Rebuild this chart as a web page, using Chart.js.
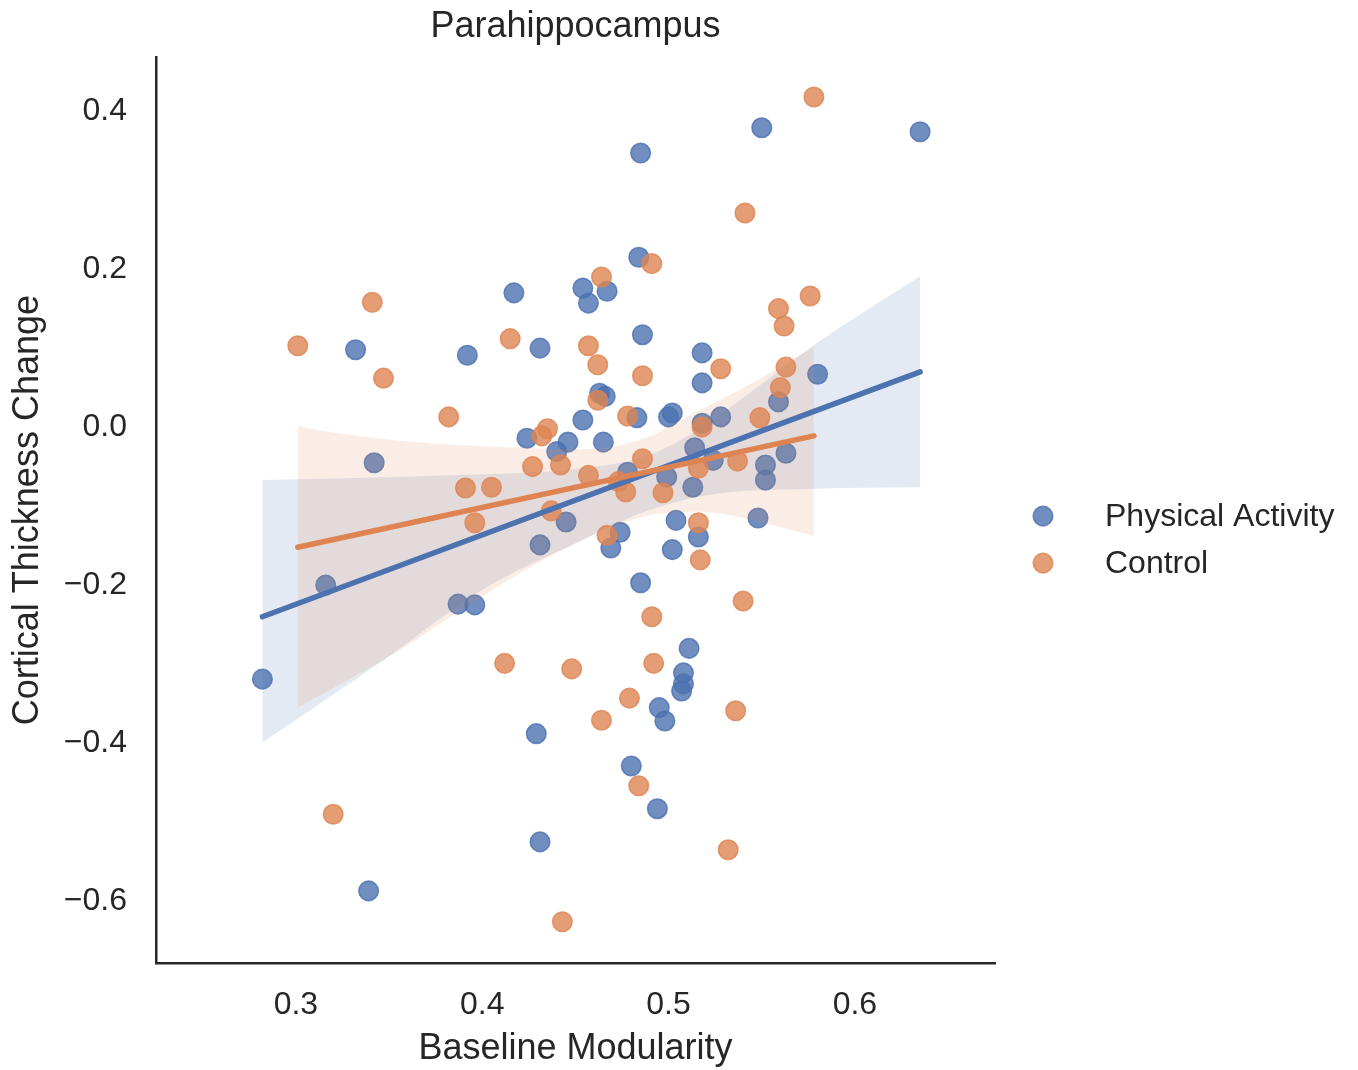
<!DOCTYPE html>
<html><head><meta charset="utf-8">
<script src="https://cdn.jsdelivr.net/npm/chart.js@4.4.1/dist/chart.umd.min.js"></script>
<style>html,body{margin:0;padding:0;background:#fff}canvas{display:block}</style>
</head><body>
<canvas id="c" width="1358" height="1070"></canvas>
<script>
const chartTitle = 'Parahippocampus';
const xAxisTitle = 'Baseline Modularity';
const yAxisTitle = 'Cortical Thickness Change';
const seriesNames = ['Physical Activity', 'Control'];

const paX = [0.635,0.550,0.485,0.484,0.417,0.454,0.457,0.467,0.486,0.332,0.392,0.431,0.518,0.518,0.580,0.463,0.466,0.454,0.483,0.500,0.502,0.528,0.518,0.559,0.424,0.446,0.440,0.465,0.342,0.514,0.524,0.563,0.552,0.552,0.478,0.499,0.513,0.504,0.516,0.548,0.502,0.445,0.431,0.474,0.469,0.316,0.387,0.396,0.485,0.282,0.511,0.508,0.508,0.507,0.495,0.498,0.429,0.480,0.494,0.431,0.339];
const paY = [0.370,0.375,0.343,0.211,0.166,0.172,0.153,0.168,0.113,0.094,0.087,0.096,0.090,0.052,0.063,0.039,0.035,0.005,0.008,0.009,0.014,0.009,0.001,0.028,-0.018,-0.023,-0.035,-0.023,-0.049,-0.030,-0.046,-0.037,-0.052,-0.071,-0.061,-0.067,-0.080,-0.122,-0.143,-0.119,-0.159,-0.124,-0.153,-0.137,-0.157,-0.204,-0.228,-0.229,-0.201,-0.323,-0.284,-0.315,-0.329,-0.338,-0.359,-0.376,-0.392,-0.433,-0.487,-0.529,-0.591];

const ctrlX = [0.578,0.541,0.464,0.491,0.341,0.576,0.559,0.562,0.301,0.415,0.457,0.347,0.462,0.486,0.528,0.563,0.560,0.382,0.462,0.478,0.549,0.518,0.432,0.435,0.427,0.442,0.457,0.486,0.537,0.516,0.391,0.405,0.473,0.477,0.497,0.396,0.437,0.467,0.516,0.517,0.540,0.491,0.412,0.448,0.492,0.479,0.464,0.536,0.484,0.320,0.532,0.443];
const ctrlY = [0.414,0.267,0.186,0.203,0.154,0.162,0.146,0.124,0.099,0.108,0.099,0.058,0.075,0.061,0.070,0.072,0.046,0.009,0.030,0.010,0.008,-0.004,-0.015,-0.006,-0.054,-0.052,-0.065,-0.044,-0.047,-0.056,-0.081,-0.080,-0.073,-0.086,-0.087,-0.125,-0.110,-0.141,-0.125,-0.172,-0.224,-0.244,-0.303,-0.310,-0.303,-0.347,-0.375,-0.363,-0.458,-0.494,-0.539,-0.630];

// regression lines
const paFitX = [0.282, 0.635];
const paFitY = [-0.244, 0.066];
const ctrlFitX = [0.301, 0.578];
const ctrlFitY = [-0.156, -0.015];

// confidence bands
const paBandUpperX = [0.282,0.383,0.454,0.490,0.521,0.549,0.578,0.635];
const paBandUpperY = [-0.071,-0.065,-0.056,-0.039,0.001,0.049,0.100,0.187];
const paBandLowerX = [0.282,0.347,0.400,0.454,0.485,0.521,0.578,0.635];
const paBandLowerY = [-0.403,-0.299,-0.210,-0.147,-0.113,-0.090,-0.082,-0.080];
const ctrlBandUpperX = [0.301,0.318,0.365,0.419,0.454,0.485,0.517,0.538,0.578];
const ctrlBandUpperY = [-0.003,-0.010,-0.023,-0.030,-0.032,-0.020,0.018,0.043,0.097];
const ctrlBandLowerX = [0.301,0.356,0.383,0.436,0.485,0.517,0.549,0.578];
const ctrlBandLowerY = [-0.359,-0.286,-0.244,-0.168,-0.118,-0.111,-0.124,-0.142];

const xTickValues = [0.3, 0.4, 0.5, 0.6];
const xTickLabels = ['0.3', '0.4', '0.5', '0.6'];
const yTickValues = [-0.6, -0.4, -0.2, 0.0, 0.2, 0.4];
const yTickLabels = ['\u22120.6', '\u22120.4', '\u22120.2', '0.0', '0.2', '0.4'];
const xMin = 0.2249, xMax = 0.6752, yMin = -0.6823, yMax = 0.4643;

const BLUE = '#4C72B0', ORANGE = '#DD8452';
const BLUE_PT = 'rgba(76,114,176,0.8)', ORANGE_PT = 'rgba(221,132,82,0.8)';
const BLUE_BAND = 'rgba(76,114,176,0.15)', ORANGE_BAND = 'rgba(221,132,82,0.15)';
const TEXT = '#262626';
const FONT = "'Liberation Sans', Arial, sans-serif";

const zip = (xs, ys) => xs.map((x, i) => ({x, y: ys[i]}));

const scatterDs = (label, xs, ys, col, order) => ({
  type: 'scatter', label, data: zip(xs, ys), order,
  backgroundColor: col, borderColor: col, borderWidth: 1.5,
  pointRadius: 9.8, pointHoverRadius: 9.8
});
const lineDs = (xs, ys, col, order) => ({
  type: 'line', data: zip(xs, ys), order, borderColor: col, borderWidth: 5.5,
  borderCapStyle: 'round', pointRadius: 0, fill: false, tension: 0
});
const bandUpper = (xs, ys, col, order) => ({
  type: 'line', data: zip(xs, ys), order, borderWidth: 0, borderColor: 'rgba(0,0,0,0)',
  backgroundColor: col, pointRadius: 0, fill: '+1', cubicInterpolationMode: 'monotone'
});
const bandLower = (xs, ys, order) => ({
  type: 'line', data: zip(xs, ys), order, borderWidth: 0, borderColor: 'rgba(0,0,0,0)',
  pointRadius: 0, fill: false, cubicInterpolationMode: 'monotone'
});

const legendItems = [
  {name: seriesNames[0], color: BLUE_PT},
  {name: seriesNames[1], color: ORANGE_PT}
];

const sideLegend = {
  id: 'sideLegend',
  afterDraw(chart) {
    const ctx = chart.ctx, a = chart.chartArea;
    const mx = a.right + 48, tx = a.right + 110;
    const y0 = (a.top + a.bottom) / 2 + 6;
    ctx.save();
    ctx.font = '32px ' + FONT;
    ctx.textBaseline = 'middle';
    ctx.textAlign = 'left';
    legendItems.forEach((it, i) => {
      const y = y0 + i * 47;
      ctx.beginPath();
      ctx.arc(mx, y, 9.8, 0, Math.PI * 2);
      ctx.fillStyle = it.color; ctx.fill();
      ctx.lineWidth = 1.5; ctx.strokeStyle = it.color; ctx.stroke();
      ctx.fillStyle = TEXT;
      ctx.fillText(it.name, tx, y + 1);
    });
    ctx.restore();
  }
};

new Chart(document.getElementById('c'), {
  type: 'scatter',
  data: {
    datasets: [
      scatterDs(seriesNames[0], paX, paY, BLUE_PT, 6),
      bandUpper(paBandUpperX, paBandUpperY, BLUE_BAND, 5),
      bandLower(paBandLowerX, paBandLowerY, 5),
      scatterDs(seriesNames[1], ctrlX, ctrlY, ORANGE_PT, 4),
      bandUpper(ctrlBandUpperX, ctrlBandUpperY, ORANGE_BAND, 3),
      bandLower(ctrlBandLowerX, ctrlBandLowerY, 3),
      lineDs(paFitX, paFitY, BLUE, 2),
      lineDs(ctrlFitX, ctrlFitY, ORANGE, 1)
    ]
  },
  options: {
    responsive: false, animation: false, devicePixelRatio: 1,
    layout: {padding: {left: 0, right: 363, top: 0, bottom: 0}},
    plugins: {
      legend: {display: false},
      tooltip: {enabled: false},
      title: {display: true, text: chartTitle, fullSize: false, color: TEXT,
        font: {family: FONT, size: 36, weight: 'normal'}, padding: {top: 5, bottom: 9}},
      filler: {propagate: false}
    },
    scales: {
      x: {
        type: 'linear', min: xMin, max: xMax,
        grid: {display: false, drawTicks: false},
        border: {display: true, color: TEXT, width: 2.5},
        afterBuildTicks: s => { s.ticks = xTickValues.map(v => ({value: v})); },
        afterFit: s => { s.height = 107; },
        ticks: {color: TEXT, padding: 23, font: {family: FONT, size: 32},
          callback: (v) => { const i = xTickValues.findIndex(t => Math.abs(t - v) < 1e-9); return i >= 0 ? xTickLabels[i] : ''; }},
        title: {display: true, text: xAxisTitle, color: TEXT, font: {family: FONT, size: 36},
          padding: {top: 0, bottom: -1}}
      },
      y: {
        type: 'linear', min: yMin, max: yMax,
        grid: {display: false, drawTicks: false},
        border: {display: true, color: TEXT, width: 2.5},
        afterBuildTicks: s => { s.ticks = yTickValues.map(v => ({value: v})); },
        afterFit: s => { s.width = 156; },
        ticks: {color: TEXT, padding: 29, labelOffset: 3, font: {family: FONT, size: 32},
          callback: (v) => { const i = yTickValues.findIndex(t => Math.abs(t - v) < 1e-9); return i >= 0 ? yTickLabels[i] : ''; }},
        title: {display: true, text: yAxisTitle, color: TEXT, font: {family: FONT, size: 36},
          padding: {top: 6, bottom: 0}}
      }
    }
  },
  plugins: [sideLegend]
});
</script>
</body></html>
